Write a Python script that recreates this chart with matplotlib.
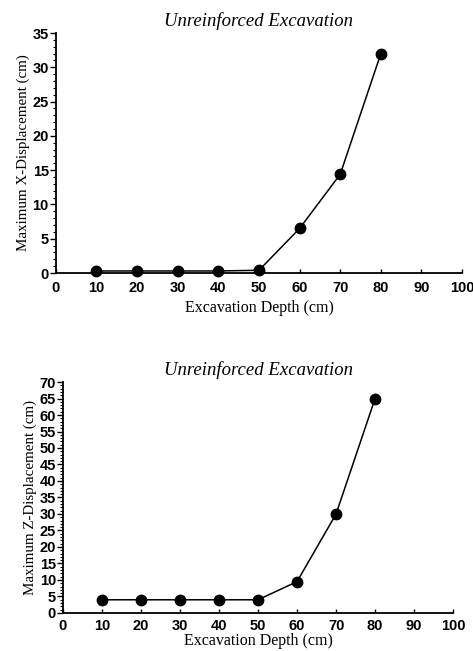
import matplotlib
matplotlib.use("Agg")
import matplotlib.pyplot as plt
from matplotlib.ticker import MultipleLocator

depth = [10, 20, 30, 40, 50, 60, 70, 80]
x_disp = [0.3, 0.3, 0.3, 0.3, 0.4, 6.5, 14.4, 32.0]
z_disp = [4.0, 4.0, 4.0, 4.0, 4.0, 9.5, 30.0, 65.0]
title = "Unreinforced Excavation"
xlabel = "Excavation Depth (cm)"

fig = plt.figure(figsize=(4.73, 6.51), dpi=100)
ax1 = fig.add_axes([0.118, 0.5806, 0.859, 0.3687])
ax2 = fig.add_axes([0.133, 0.0584, 0.825, 0.3548])

def style(ax, ymax, ylabel, tpad, lpad):
    ax.set_xlim(0, 100); ax.set_ylim(0, ymax)
    ax.xaxis.set_major_locator(MultipleLocator(10))
    ax.yaxis.set_major_locator(MultipleLocator(5))
    ax.yaxis.set_minor_locator(MultipleLocator(1))
    for s in ("top", "right"): ax.spines[s].set_visible(False)
    for s in ("left", "bottom"): ax.spines[s].set_linewidth(1.3)
    ax.tick_params(axis="y", which="major", direction="out", length=4, width=1, pad=1)
    ax.tick_params(axis="y", which="minor", direction="out", length=2, width=0.8)
    ax.tick_params(axis="x", which="major", direction="in", length=3, width=1, pad=tpad)
    for lab in ax.get_xticklabels() + ax.get_yticklabels():
        lab.set_fontfamily("Liberation Sans"); lab.set_fontweight("bold"); lab.set_fontsize(10.5)
    ax.set_title(title, fontfamily="Liberation Serif", style="italic", fontsize=13.5, pad=5)
    ax.set_xlabel(xlabel, fontfamily="Liberation Serif", fontsize=11.5, labelpad=lpad)
    ax.set_ylabel(ylabel, fontfamily="Liberation Serif", fontsize=10.8, labelpad=2)

ax1.plot(depth, x_disp, "-o", color="black", lw=1.1, ms=7.5, clip_on=False)
style(ax1, 35, "Maximum X-Displacement (cm)", 6, 3)
ax2.plot(depth, z_disp, "-o", color="black", lw=1.1, ms=7.5, clip_on=False)
style(ax2, 70, "Maximum Z-Displacement (cm)", 4, 0)

fig.savefig("out.png", dpi=100)
